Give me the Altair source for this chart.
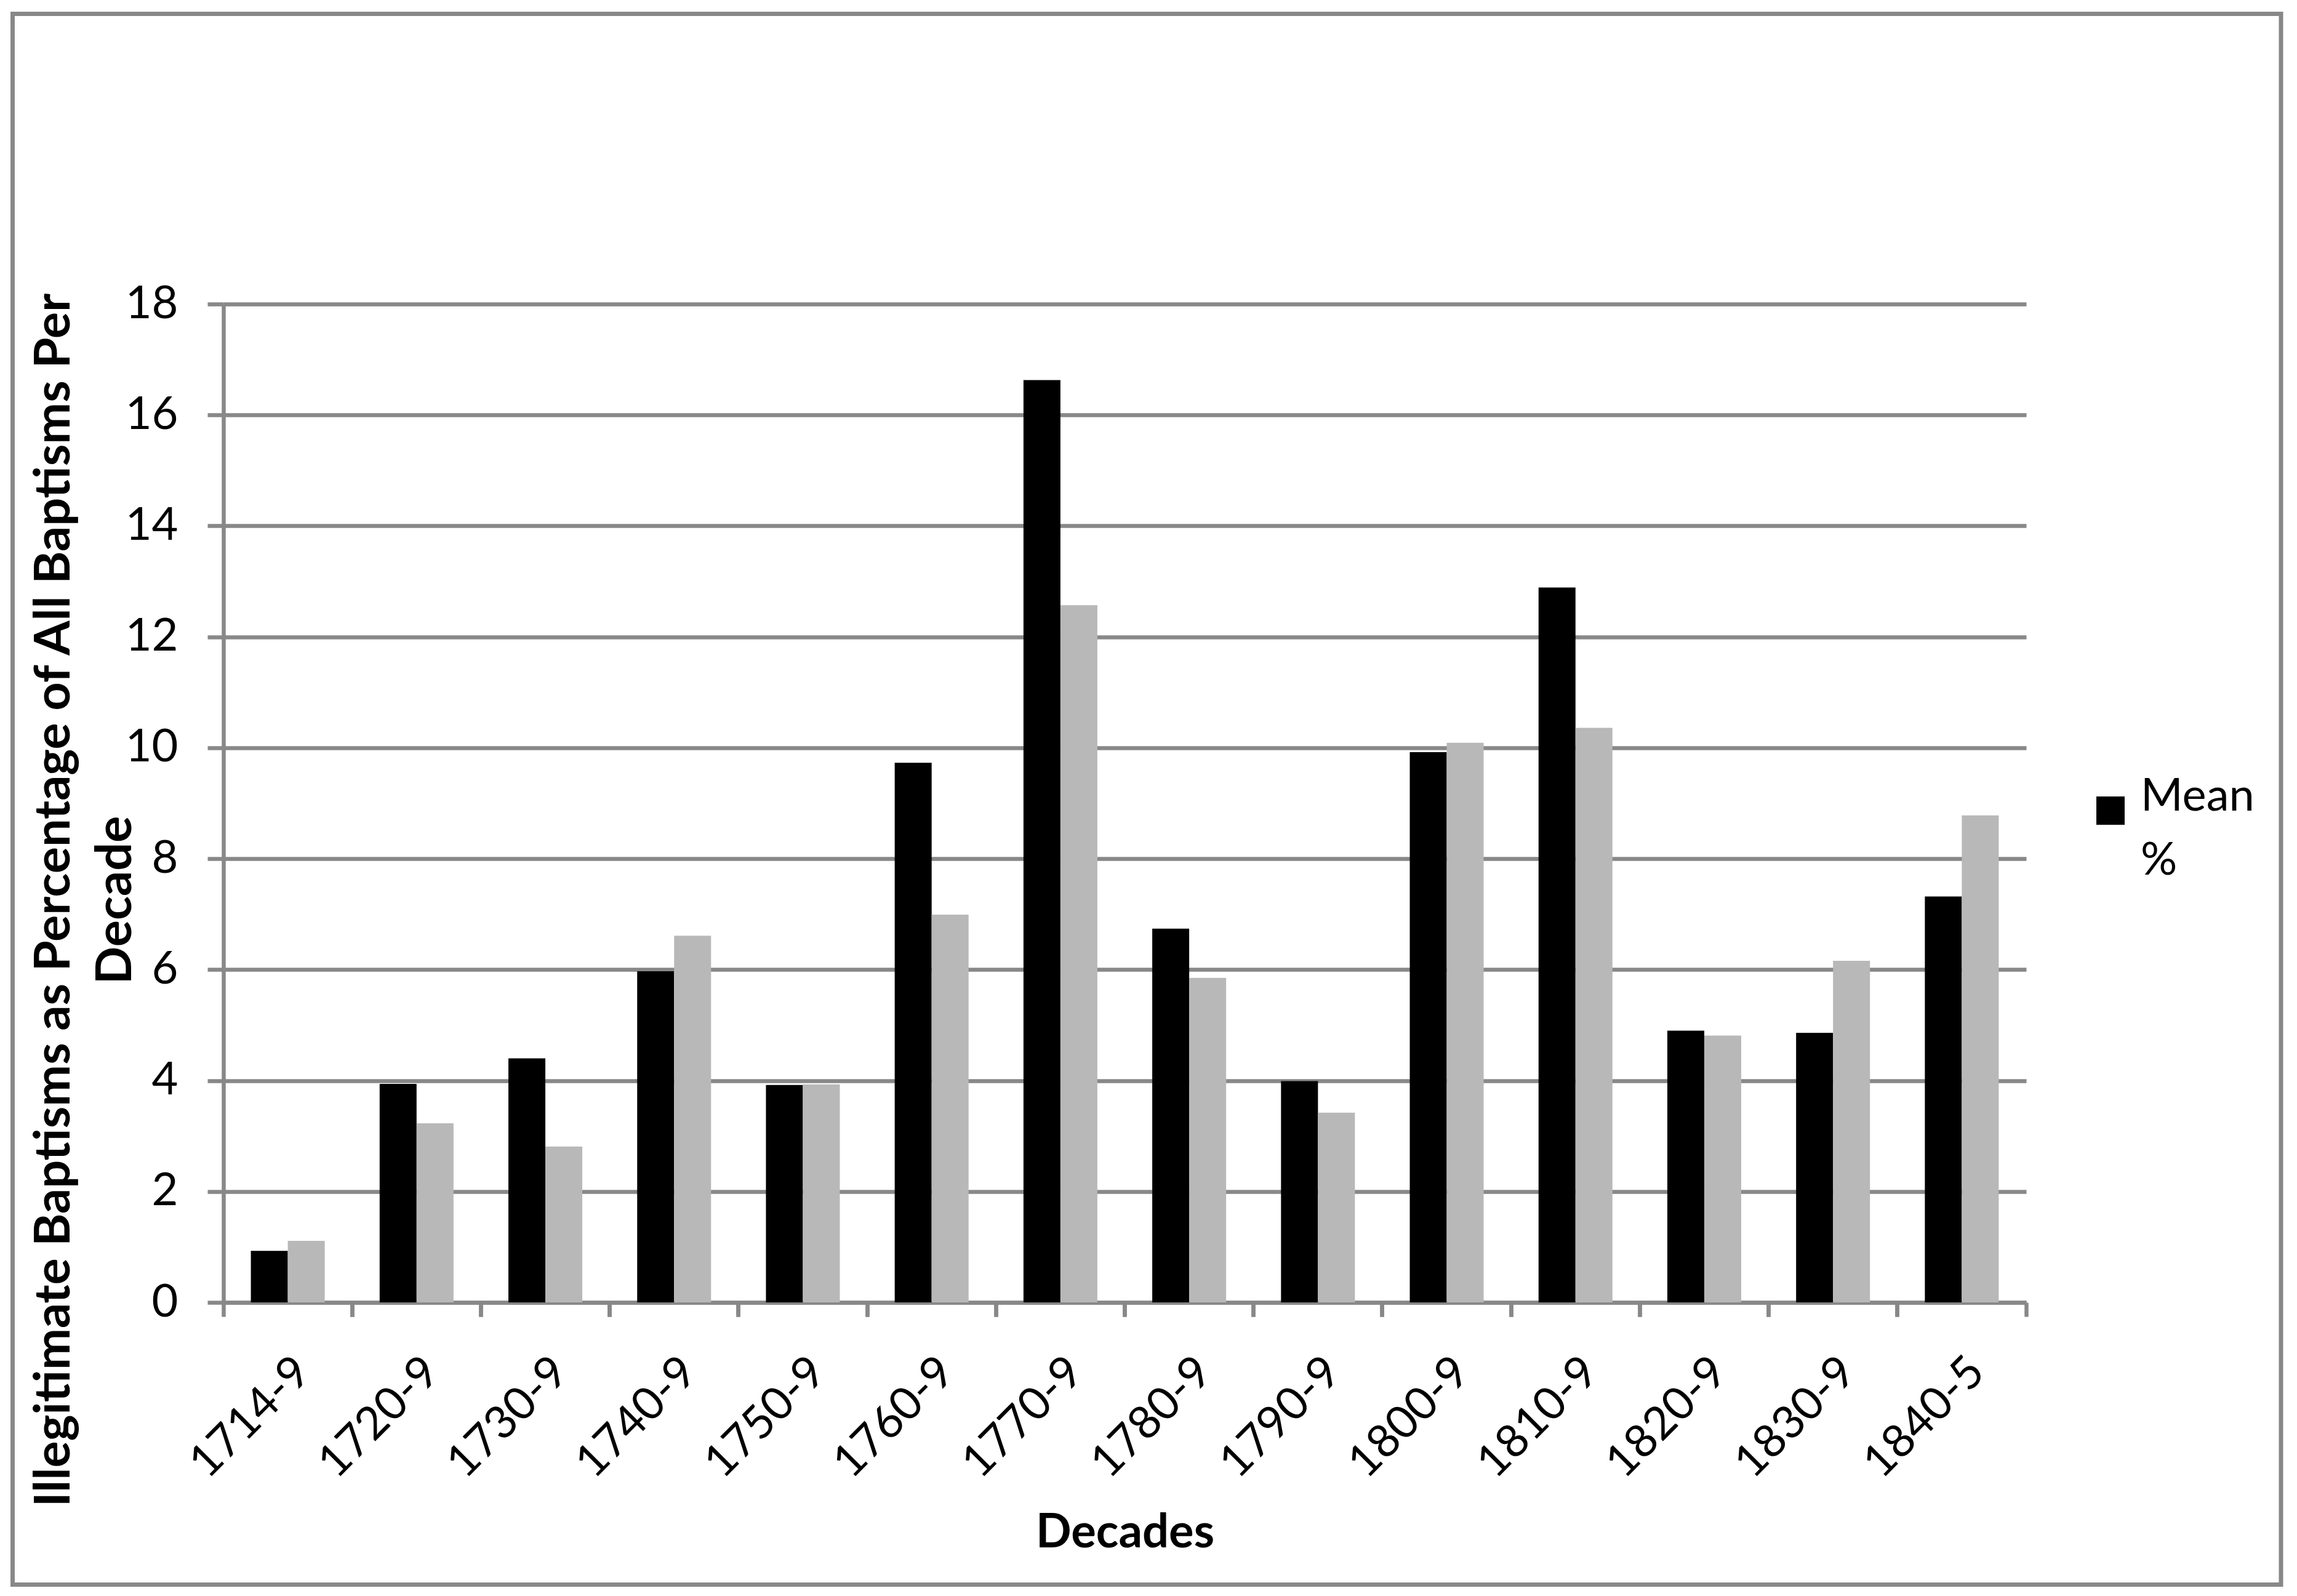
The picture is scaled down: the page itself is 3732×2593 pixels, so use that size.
import altair as alt
import pandas as pd

decades = ["1714-9", "1720-9", "1730-9", "1740-9", "1750-9", "1760-9", "1770-9",
           "1780-9", "1790-9", "1800-9", "1810-9", "1820-9", "1830-9", "1840-5"]
mean_pct = [0.93, 3.94, 4.40, 5.97, 3.92, 9.73, 16.63, 6.74, 3.99, 9.92, 12.89, 4.90, 4.86, 7.32]
second_series = [1.11, 3.23, 2.81, 6.61, 3.93, 6.99, 12.57, 5.85, 3.42, 10.09, 10.36, 4.81, 6.16, 8.78]
series_names = ["Mean %", "Series 2"]
series_colors = ["#000000", "#b8b8b8"]
y_ticks = [0, 2, 4, 6, 8, 10, 12, 14, 16, 18]

rows = []
for d, a, b in zip(decades, mean_pct, second_series):
    rows.append({"Decade": d, "Series": series_names[0], "Value": a})
    rows.append({"Decade": d, "Series": series_names[1], "Value": b})
df = pd.DataFrame(rows)

W, H = 2929, 1622
GRID = "#888888"
SW = 6.5
FONT = "Lato"

xscale = alt.Scale(paddingInner=0, paddingOuter=0)
yenc = alt.Y("Value:Q",
             scale=alt.Scale(domain=[0, 18], nice=False),
             axis=alt.Axis(values=y_ticks, grid=True, gridColor=GRID, gridWidth=SW,
                           domain=True, domainColor=GRID, domainWidth=SW,
                           ticks=True, tickColor=GRID, tickWidth=SW, tickSize=26,
                           labelFont=FONT, labelFontSize=74, labelColor="#000000",
                           labelPadding=48,
                           title=["Illegitimate Baptisms as Percentage of All Baptisms Per", "Decade"],
                           titleFont=FONT, titleFontWeight="bold", titleFontSize=81,
                           titleColor="#000000", titleLineHeight=100,
                           titleAngle=270, titleAlign="center", titleBaseline="alphabetic",
                           titleX=-251, titleY=968, titleLimit=3000))
colenc = alt.Color("Series:N",
                   scale=alt.Scale(domain=series_names, range=series_colors),
                   legend=alt.Legend(values=["Mean %"], title="", orient="none",
                                     legendX=3029, legendY=786, padding=0,
                                     symbolType="square", symbolSize=2116,
                                     symbolStrokeWidth=0, symbolFillColor="#000000",
                                     labelFont=FONT, labelFontSize=74, labelColor="#000000",
                                     labelOffset=12, labelLimit=600,
                                     labelBaseline="alphabetic",
                                     labelExpr="datum.label == 'Mean %' ? ['Mean', '%'] : datum.label"))

bars = alt.Chart(df).mark_bar(strokeWidth=0).encode(
    x=alt.X("Decade:N", sort=decades, scale=xscale,
            axis=alt.Axis(orient="bottom", ticks=False, domain=False, grid=False,
                          labelAngle=-45, labelAlign="right", labelBaseline="top",
                          labelFont=FONT, labelFontSize=74,
                          labelColor="#000000", labelPadding=76, labelLimit=600,
                          title="Decades", titleFont=FONT, titleFontWeight="bold",
                          titleFontSize=76, titleColor="#000000",
                          titleBaseline="alphabetic", titleY=397)),
    xOffset=alt.XOffset("Series:N", sort=series_names,
                        scale=alt.Scale(paddingInner=0, paddingOuter=0.743)),
    y=yenc,
    color=colenc,
)

ticks_left = alt.Chart(df).mark_bar(opacity=0).encode(
    x=alt.X("Decade:N", sort=decades, scale=xscale,
            axis=alt.Axis(orient="bottom", bandPosition=0, labels=False, grid=False,
                          domain=True, domainColor=GRID, domainWidth=SW,
                          ticks=True, tickColor=GRID, tickWidth=SW, tickSize=23,
                          title="")),
    y=yenc,
)

ticks_right = alt.Chart(df).mark_bar(opacity=0).encode(
    x=alt.X("Decade:N", sort=decades, scale=xscale,
            axis=alt.Axis(orient="bottom", bandPosition=1, labels=False, grid=False,
                          domain=False,
                          ticks=True, tickColor=GRID, tickWidth=SW, tickSize=23,
                          title="")),
    y=yenc,
)

frame = alt.Chart(pd.DataFrame({"f": [0]})).mark_rect(
    filled=False, stroke=GRID, strokeWidth=7
).encode(
    x=alt.value(-342.5), x2=alt.value(W + 414),
    y=alt.value(-471.5), y2=alt.value(H + 458.5),
)

chart = alt.layer(ticks_left, ticks_right, bars, frame).resolve_axis(
    x="independent"
).properties(
    width=W, height=H,
    autosize=alt.AutoSizeParams(type="none"),
    padding={"left": 355, "top": 486, "right": 420, "bottom": 465},
    background="#ffffff",
).configure(
    style={"guide-label": {"lineHeight": 104}},
    view=alt.ViewConfig(strokeWidth=0),
)

chart.save("out.html", embed_options={"renderer": "svg", "actions": False})
